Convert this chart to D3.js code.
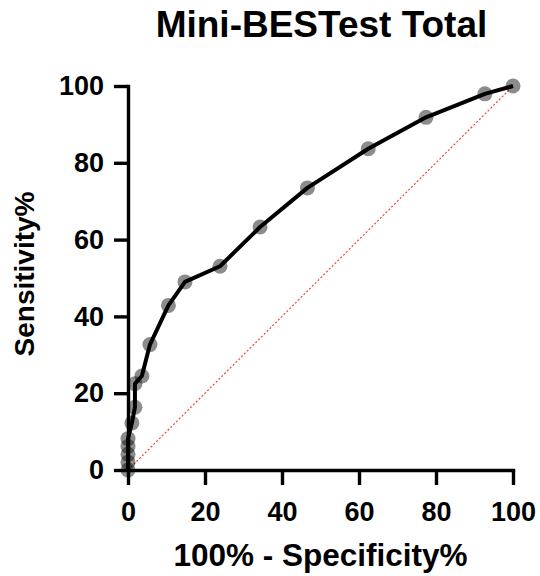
<!DOCTYPE html>
<html>
<head>
<meta charset="utf-8">
<script src="https://cdn.jsdelivr.net/npm/d3@7"></script>
<style>
	body { margin: 0; background: #fff; }
	text { font-family: "Liberation Sans", Arial, sans-serif; font-weight: bold; fill: #000; }
</style>
</head>
<body>
<svg id="chart" width="540" height="576"></svg>
<script>
	var chartTitle = "Mini-BESTest Total";
	var xTitle = "100% - Specificity%";
	var yTitle = "Sensitivity%";
	//  100% - specificity (x) and sensitivity (y), in percent
	var specComp = [0, 0, 0, 0, 0, 1.0, 1.8, 1.8, 3.6, 5.7, 10.5, 14.8, 23.9, 34.3, 46.6, 62.4, 77.4, 92.7, 100];
	var sensitivity = [0, 2.04, 4.08, 6.12, 8.16, 12.24, 16.33, 22.45, 24.49, 32.65, 42.86, 48.98, 53.06, 63.27, 73.47, 83.67, 91.84, 97.96, 100];
	var tickValues = [0, 20, 40, 60, 80, 100];
	var refLine = [0, 100];

	var margin = {top: 86, right: 27, bottom: 106, left: 128},
		width = 540 - margin.left - margin.right,
		height = 576 - margin.top - margin.bottom;

	var svg = d3.select("#chart");
	var g = svg.append("g")
		.attr("transform", "translate(" + margin.left + "," + margin.top + ")");

	var x = d3.scaleLinear().domain([0, 100]).range([0, width]);
	var y = d3.scaleLinear().domain([0, 100]).range([height, 0]);

	var points = specComp.map(function(d, i) {
		return {x: d, y: sensitivity[i]};
	});

	//  chance line
	g.append("line")
		.attr("x1", x(refLine[0])).attr("y1", y(refLine[0]))
		.attr("x2", x(refLine[1])).attr("y2", y(refLine[1]))
		.attr("stroke", "#ff3b3b")
		.attr("stroke-width", 1.2)
		.attr("stroke-dasharray", "2,2");

	var xAxis = g.append("g")
		.attr("transform", "translate(0," + height + ")")
		.call(d3.axisBottom(x).tickValues(tickValues).tickSize(15).tickSizeOuter(0).tickPadding(17));
	var yAxis = g.append("g")
		.call(d3.axisLeft(y).tickValues(tickValues).tickSize(14).tickSizeOuter(0).tickPadding(10));

	[xAxis, yAxis].forEach(function(ax) {
		ax.select(".domain").attr("stroke-width", 3.4).attr("stroke-linecap", "square");
		ax.selectAll(".tick line").attr("stroke-width", 3.4);
		ax.selectAll(".tick text")
			.style("font-size", "27px")
			.style("font-family", "'Liberation Sans', Arial, sans-serif")
			.style("font-weight", "bold")
			.attr("fill", "#000");
	});

	//  ROC curve
	var line = d3.line()
		.x(function(d) { return x(d.x); })
		.y(function(d) { return y(d.y); });
	g.append("path")
		.datum(points)
		.attr("fill", "none")
		.attr("stroke", "#000")
		.attr("stroke-width", 4)
		.attr("stroke-linejoin", "round")
		.attr("d", line);

	g.selectAll(".pt")
		.data(points)
		.enter().append("circle")
		.attr("class", "pt")
		.attr("cx", function(d) { return x(d.x); })
		.attr("cy", function(d) { return y(d.y); })
		.attr("r", 7.5)
		.attr("fill", "#000")
		.attr("fill-opacity", 0.45);

	//  titles
	svg.append("text")
		.attr("x", margin.left + width / 2 + 1)
		.attr("y", 37)
		.attr("text-anchor", "middle")
		.style("font-size", "37px")
		.text(chartTitle);
	svg.append("text")
		.attr("x", margin.left + width / 2)
		.attr("y", 566)
		.attr("text-anchor", "middle")
		.style("font-size", "31.5px")
		.text(xTitle);
	svg.append("text")
		.attr("transform", "translate(34," + (margin.top + height / 2 - 4) + ") rotate(-90)")
		.attr("text-anchor", "middle")
		.style("font-size", "28px")
		.text(yTitle);
</script>
</body>
</html>
